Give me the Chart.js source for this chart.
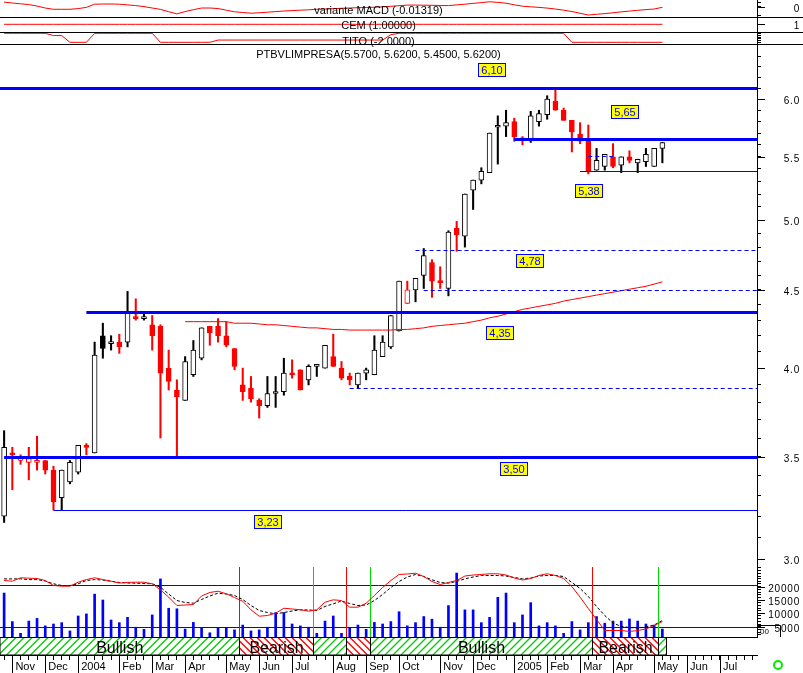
<!DOCTYPE html>
<html>
<head>
<meta charset="utf-8">
<title>PTBVLIMPRESA</title>
<script src="https://cdn.jsdelivr.net/npm/chart.js@4.4.1/dist/chart.umd.min.js"></script>
<style>
  body { margin: 0; background: #fff; }
  #page { position: relative; width: 803px; height: 673px; overflow: hidden; background: #fff; }
  #page canvas { position: absolute; left: 0; }
  .rule { position: absolute; left: 0; width: 803px; height: 1px; background: #000; }
  .cap { position: absolute; left: 0; width: 757px; text-align: center; font: 11px "Liberation Sans", Arial, sans-serif; line-height: 11px; color: #000; white-space: nowrap; }
</style>
</head>
<body>
<div id="page">
  <canvas id="macd" width="803" height="17" style="top:0"></canvas>
  <canvas id="cem" width="803" height="15" style="top:17px"></canvas>
  <canvas id="tito" width="803" height="12" style="top:32px"></canvas>
  <canvas id="price" width="803" height="521" style="top:44px"></canvas>
  <canvas id="osc" width="803" height="72" style="top:565px"></canvas>
  <canvas id="axis" width="803" height="36" style="top:637px"></canvas>
  <div class="rule" style="top:17px"></div>
  <div class="rule" style="top:32px"></div>
  <div class="rule" style="top:44px"></div>
  <div class="cap" style="top:5px">variante MACD (-0.01319)</div>
  <div class="cap" style="top:20px">CEM (1.00000)</div>
  <div class="cap" style="top:36px">TITO (-2.0000)</div>
  <div class="cap" style="top:49px">PTBVLIMPRESA(5.5700, 5.6200, 5.4500, 5.6200)</div>
</div>
<script>
// weekly candles, Oct 2003 -> May 2005
const opens  = [3.20,3.52,3.48,3.47,3.47,3.48,3.43,3.29,3.37,3.42, 3.56,3.52,4.20,4.15,4.16,4.16,4.32,4.31,4.27,4.26,
                4.00,3.87,3.81,3.96,4.06,4.26,4.26,4.20,4.12,3.90, 3.88,3.81,3.78,3.85,3.86,3.97,3.99,3.93,4.01,4.00,
                4.07,4.00,3.95,3.90,3.97,3.96,4.07,4.13,4.23,4.41, 4.50,4.60,4.69,4.56,4.51,4.94,4.88,5.23,5.31,5.37,
                5.75,5.76,5.80,5.66,5.64,5.80,5.86,5.98,5.90,5.81, 5.69,5.65,5.39,5.42,5.50,5.43,5.50,5.45,5.46,5.42, 5.57];
const highs  = [3.64,3.55,3.51,3.55,3.61,3.48,3.45,3.43,3.48,3.56, 3.57,4.16,4.28,4.20,4.21,4.49,4.44,4.35,4.33,4.27,
                4.11,3.93,4.07,4.17,4.25,4.26,4.31,4.29,4.12,4.00, 3.95,3.82,3.95,3.95,4.06,4.05,3.99,4.02,4.02,4.14,
                4.21,4.04,3.97,3.97,4.00,4.20,4.20,4.33,4.56,4.56, 4.58,4.79,4.71,4.66,4.92,4.99,5.20,5.31,5.41,5.70,
                5.85,5.90,5.83,5.67,5.89,5.90,6.03,6.10,5.92,5.81, 5.79,5.77,5.57,5.52,5.61,5.50,5.55,5.48,5.57,5.57, 5.62];
const lows   = [3.17,3.33,3.46,3.38,3.43,3.41,3.23,3.23,3.36,3.41, 3.51,3.52,4.06,4.11,4.09,4.13,4.30,4.30,4.11,3.60,
                3.87,3.50,3.81,3.95,4.05,4.14,4.16,4.13,3.99,3.81, 3.80,3.71,3.77,3.77,3.84,3.94,3.87,3.90,3.95,4.00,
                4.01,3.93,3.90,3.88,3.93,3.96,4.07,4.12,4.23,4.41, 4.42,4.51,4.45,4.51,4.46,4.77,4.80,5.08,5.28,5.37,
                5.44,5.67,5.63,5.60,5.62,5.76,5.82,5.90,5.81,5.54, 5.61,5.36,5.39,5.39,5.41,5.37,5.45,5.37,5.42,5.42, 5.45];
const closes = [3.55,3.51,3.50,3.49,3.48,3.43,3.27,3.43,3.47,3.56, 3.55,4.08,4.12,4.16,4.13,4.35,4.31,4.32,4.20,3.97,
                3.92,3.83,4.04,4.11,4.25,4.22,4.20,4.14,4.01,3.86, 3.82,3.78,3.85,3.86,3.97,3.96,3.87,4.01,4.02,4.14,
                4.01,3.94,3.93,3.97,3.99,4.11,4.16,4.33,4.56,4.50, 4.58,4.74,4.56,4.55,4.91,4.89,5.20,5.31,5.38,5.70,
                5.76,5.79,5.67,5.64,5.85,5.87,6.00,5.90,5.81,5.71, 5.63,5.38,5.47,5.52,5.42,5.50,5.47,5.48,5.52,5.57, 5.62];
// red average drawn over the candles (starts at week 23)
const avgLine = [null,null,null,null,null,null,null,null,null,null, null,null,null,null,null,null,null,null,null,null,
                 null,null,4.29,4.29,4.29,4.29,4.29,4.29,4.28,4.28, 4.28,4.275,4.27,4.27,4.265,4.26,4.255,4.25,4.25,4.245,
                 4.24,4.24,4.236,4.236,4.236,4.236,4.236,4.236,4.24,4.24, 4.245,4.25,4.26,4.265,4.27,4.275,4.28,4.29,4.30,4.315,
                 4.325,4.34,4.355,4.37,4.38,4.39,4.40,4.41,4.425,4.435, 4.445,4.455,4.465,4.475,4.485,4.495,4.505,4.515,4.525,4.54, 4.555];
const volume = [17600,6900,2500,7100,8100,5300,6000,6500,3400,9000, 9800,17200,15000,7500,6500,8500,4800,4000,9400,22900,
                11900,11700,4100,6600,4400,2700,4400,4400,3800,5600, 3400,3800,4800,10300,10300,6000,5300,4800,2500,7100,
                9000,2500,4400,5600,4000,6600,6000,6900,10600,5300, 6500,8800,7800,4800,12900,25100,11300,11300,6500,8500,
                16000,17600,6500,9400,14000,5300,6500,5300,2500,6900, 3800,6500,8800,6300,7100,7100,7900,7100,6000,5600, 4100];
const stochK = [85.7,84.7,89.6,89,88.6,85.7,78.6,77.6,77.6,83.3, 87,89.6,87,84.7,82,83,83.3,83.3,81,72.4,
                61.9,50,50.7,51.4,63.6,68.6,70.4,66.7,61.4,56.1, 43.9,34.7,35.7,39,46.1,45,43.9,41.9,43.9,54.7,
                58.1,57.1,47.6,47.6,53.3,64.3,75.7,85.7,94.3,95, 96.1,91.4,84.3,80,82.9,85.7,92.1,93.6,94.3,95.3,
                95.3,93.6,89.3,86.4,88.6,92.9,95.3,92.9,88.6,77.1, 61.9,45.7,30,14.3,14.3,14.3,12.9,14.3,16.4,21.4, 27.1];
const stochD = [88,88,88,87,87,85,81,78.6,78.6,81, 85.7,87,86.4,84.7,82.9,82.1,81.9,81.4,81,76.1,
                66.4,57.1,54.3,53.3,58.6,63.6,67.6,66.4,64.3,58.6, 50,42.9,40,38.1,40,42.1,43.9,43.6,42.9,48.6,
                52.4,56.4,52.9,50,50.7,57.1,65.7,75.7,84.3,90.7, 94.3,91.4,86.7,82.9,81.9,84.3,88.1,90.7,92.9,92.9,
                92.9,92.1,90,88.1,89.3,92.1,92.9,92.9,91.4,82.9, 74.3,62.9,48.6,35.7,25,20,18.6,17.6,19.3,22.1, 28.6];
const macd   = [0.101,0.081,0.064,0.046,0.015,-0.029,-0.057,-0.057,-0.057,-0.042,
                -0.015,0.055,0.059,0.059,0.055,0.040,0.024,0.002,-0.029,-0.059,
                -0.110,-0.158,-0.108,-0.066,-0.029,-0.029,-0.040,-0.077,-0.112,-0.128,
                -0.143,-0.134,-0.121,-0.108,-0.095,-0.086,-0.077,-0.068,-0.057,-0.051,
                -0.044,-0.035,-0.029,-0.022,-0.018,-0.011,-0.004,0.009,0.022,0.035,
                0.035,0.033,0.031,0.026,0.024,0.040,0.055,0.073,0.090,0.108,
                0.095,0.077,0.042,0.011,-0.002,-0.015,-0.031,-0.051,-0.077,-0.106,
                -0.145,-0.183,-0.167,-0.152,-0.134,-0.114,-0.097,-0.079,-0.064,-0.051, -0.01319];
const cem    = [1,1,1,1,1,1,1,1,1,1, 1,1,1,1,1,1,1,1,1,1, 1,1,1,1,1,1,1,1,1,1, 1,1,1,1,1,1,1,1,1,1,
                1,1,1,1,1,1,1,1,1,1, 1,1,1,1,1,1,1,1,1,1, 1,1,1,1,1,1,1,1,1,1, 1,1,1,1,1,1,1,1,1,1, 1];
const tito   = [2,2,2,2,2,2,1,1,-2,-2, -2,2,2,2,2,2,2,2,2,-2, -2,-2,-2,-2,-2,-2,-1,-1,-1,-1,
                -1,-1,-1,-1,-1,-1,-1,-1,-1,-1, -1,-1,-1,-1,-1,-1,-1,1.4,2,2, 2,2,2,2,2,2,2,2,2,2,
                2,2,2,2,2,2,2,2,2,-2, -2,-2,-2,-2,-2,-2,-2,-2,-2,-2, -2];

// support / resistance levels (start week, -1 = left edge; end null = right edge)
const levelValue = [6.10, 5.65, 5.38, 5.51, 4.78, 4.50, 4.35, 3.88, 3.50, 3.23];
const levelFrom  = [-1, 62, 70, 71, 50, 51, 10, 42, 0, 6];
const levelTo    = [null, null, null, 74, null, null, null, null, null, null];
const levelKind  = ['thick','thick','thin','dash','dash','dash','thick','dash','thick','thin'];
const tagText    = ['6,10', '5,65', '5,38', '4,78', '4,35', '3,50', '3,23'];
const tagAt      = [[59.3, 6.27], [75.4, 5.88], [71.1, 5.22], [63.9, 4.70], [60.3, 4.22], [62.0, 3.436], [32.1, 3.174]];

// trend band under the oscillator
const trendFrom = [0, 29, 38, 42, 45, 72, 80];
const trendTo   = [28, 37, 41, 44, 71, 79, 80];
const trendName = ['Bullish','Bearish','Bullish','Bearish','Bullish','Bearish','Bullish'];

// x axis: 92 weekly slots, month labels at their first week
const SLOTS = 92;
const monthIdx   = [1,5,9,14,18,22,27,31,35,40,44,48,53,57,62,66,70,74,79,83,87];
const monthNames = ['Nov','Dec','2004','Feb','Mar','Apr','May','Jun','Jul','Aug','Sep','Oct','Nov','Dec','2005','Feb','Mar','Apr','May','Jun','Jul'];

const priceLabels  = [3.0, 3.5, 4.0, 4.5, 5.0, 5.5, 6.0];
const volumeLabels = [5000, 10000, 15000, 20000];

const AXIS_W = 46;
const weekLabels = [];
for (let i = 0; i < SLOTS; i++) weekLabels.push('');
monthIdx.forEach((i, k) => { weekLabels[i] = monthNames[k]; });

const priceMinor = [];
for (let v = 30; v <= 64; v++) priceMinor.push(v / 10);
const volMinor = [];
for (let v = 2000; v <= 27000; v += 1000) volMinor.push(v);

const candleColor = closes.map((c, i) => (i === 0 || c >= closes[i - 1]) ? '#000000' : '#ff0000');
const bodyFill = closes.map((c, i) => c >= opens[i] ? '#ffffff' : candleColor[i]);
const bodies = opens.map((o, i) => [o, closes[i]]);
const wicks = lows.map((l, i) => [l, highs[i]]);

function rightAxis(min, max, tickValues, type) {
  return {
    type: type || 'linear',
    position: 'right',
    min: min, max: max,
    afterFit(s) { s.width = AXIS_W; },
    afterBuildTicks(s) { s.ticks = tickValues.map(v => ({ value: v })); },
    ticks: { display: false },
    grid: { display: true, drawOnChartArea: false, drawTicks: true, tickLength: 4, tickColor: '#000', color: '#000' },
    border: { display: true, color: '#000', width: 1 }
  };
}

function baseOptions(yScales) {
  return {
    responsive: false,
    animation: false,
    devicePixelRatio: 1,
    events: [],
    layout: { padding: 0 },
    plugins: { legend: { display: false }, tooltip: { enabled: false } },
    scales: Object.assign({
      x: { type: 'category', display: false, offset: true, grid: { offset: false } }
    }, yScales)
  };
}

// long ticks + text labels on the right axis
function sideLabels(marks) {
  return {
    id: 'sideLabels',
    afterDraw(chart) {
      const s = chart.scales.y, ctx = chart.ctx;
      ctx.save();
      ctx.strokeStyle = '#000';
      ctx.lineWidth = 1;
      ctx.fillStyle = '#000';
      ctx.font = '10px "Liberation Sans", Arial, sans-serif';
      ctx.letterSpacing = '0.8px';
      ctx.textAlign = 'right';
      ctx.textBaseline = 'middle';
      marks.forEach(m => {
        const py = Math.round(s.getPixelForValue(m[0])) + 0.5;
        ctx.beginPath();
        ctx.moveTo(s.left, py);
        ctx.lineTo(s.left + 8, py);
        ctx.stroke();
        if (m[1]) ctx.fillText(m[1], 800, py + 1.5);
      });
      ctx.restore();
    }
  };
}

function lineSet(data, color, extra) {
  return Object.assign({ type: 'line', data: data, borderColor: color, borderWidth: 1, pointRadius: 0, tension: 0 }, extra || {});
}

// top indicator strips
new Chart(document.getElementById('macd'), {
  type: 'line',
  data: { labels: weekLabels, datasets: [lineSet(macd, '#ff0000')] },
  options: baseOptions({ y: rightAxis(-0.2266, 0.1474, [0.1, 0, -0.2]) }),
  plugins: [sideLabels([[0, '0']])]
});
new Chart(document.getElementById('cem'), {
  type: 'line',
  data: { labels: weekLabels, datasets: [lineSet(cem, '#ff0000')] },
  options: baseOptions({ y: rightAxis(0.23, 1.73, [1]) }),
  plugins: [sideLabels([[1, '1']])]
});
new Chart(document.getElementById('tito'), {
  type: 'line',
  data: { labels: weekLabels, datasets: [lineSet(tito, '#ff0000')] },
  options: baseOptions({ y: rightAxis(-2.756, 2.578, [2.5, 1.75, 1, 0.25, -0.5, -1.25, -2]) }),
  plugins: []
});

// price panel
const levelStyle = {
  thick: { width: 3, dash: [] },
  thin:  { width: 1, dash: [] },
  dash:  { width: 1, dash: [4, 3] }
};
const levelPlugin = {
  id: 'levels',
  afterDatasetsDraw(chart) {
    const { ctx, chartArea: a, scales: { x, y } } = chart;
    ctx.save();
    ctx.strokeStyle = '#0000ff';
    levelValue.forEach((v, k) => {
      const st = levelStyle[levelKind[k]];
      const py = Math.round(y.getPixelForValue(v)) + 0.5;
      const x0 = levelFrom[k] < 0 ? a.left : x.getPixelForValue(levelFrom[k]);
      const x1 = levelTo[k] == null ? a.right : x.getPixelForValue(levelTo[k]);
      ctx.lineWidth = st.width;
      ctx.setLineDash(st.dash);
      ctx.beginPath();
      ctx.moveTo(x0, py);
      ctx.lineTo(x1, py);
      ctx.stroke();
    });
    ctx.setLineDash([]);
    ctx.font = '11px "Liberation Sans", Arial, sans-serif';
    ctx.textAlign = 'center';
    ctx.textBaseline = 'middle';
    tagText.forEach((t, k) => {
      const cx = Math.round(x.getPixelForValue(tagAt[k][0]));
      const cy = Math.round(y.getPixelForValue(tagAt[k][1]));
      ctx.fillStyle = '#ffff00';
      ctx.fillRect(cx - 14, cy - 7, 28, 14);
      ctx.lineWidth = 1;
      ctx.strokeStyle = '#0000ff';
      ctx.strokeRect(cx - 13.5, cy - 6.5, 27, 13);
      ctx.fillStyle = '#0000ff';
      ctx.fillText(t, cx, cy + 1);
    });
    ctx.restore();
  }
};

new Chart(document.getElementById('price'), {
  type: 'bar',
  data: {
    labels: weekLabels,
    datasets: [
      lineSet(avgLine, '#ff0000', { order: 0 }),
      { data: bodies, backgroundColor: bodyFill, borderColor: candleColor, borderWidth: 1, borderSkipped: false,
        barThickness: 5, minBarLength: 2, grouped: false, order: 1 },
      { data: wicks, backgroundColor: candleColor, borderWidth: 0, barThickness: 1.4, grouped: false, order: 2 }
    ]
  },
  options: baseOptions({ y: rightAxis(2.973, 6.519, priceMinor, 'logarithmic') }),
  plugins: [levelPlugin, sideLabels(priceLabels.map(v => [v, v.toFixed(1)]))]
});

// oscillator + volume panel
function segEdges(x, k) {
  const slot = x.getPixelForValue(1) - x.getPixelForValue(0);
  const x0 = k === 0 ? x.left : Math.round(x.getPixelForValue(trendFrom[k]) - slot / 2) + 0.5;
  const x1 = Math.round(x.getPixelForValue(trendTo[k]) + slot / 2) + 0.5;
  return [x0, x1];
}
const oscDecor = {
  id: 'oscDecor',
  beforeDatasetsDraw(chart) {
    const { ctx, chartArea: a, scales: { x, osc } } = chart;
    ctx.save();
    ctx.lineWidth = 1;
    ctx.strokeStyle = '#0000ff';
    [80, 20].forEach(v => {
      const py = Math.round(osc.getPixelForValue(v)) + 0.5;
      ctx.beginPath(); ctx.moveTo(a.left, py); ctx.lineTo(a.right, py); ctx.stroke();
    });
    for (let k = 1; k < trendFrom.length; k++) {
      const px = segEdges(x, k)[0];
      ctx.strokeStyle = trendName[k] === 'Bullish' ? '#00dd00' : '#ff0000';
      ctx.beginPath(); ctx.moveTo(px, a.top + 2); ctx.lineTo(px, a.bottom); ctx.stroke();
    }
    ctx.restore();
  },
  afterDraw(chart) {
    const { ctx, chartArea: a } = chart;
    ctx.save();
    ctx.strokeStyle = '#000';
    ctx.lineWidth = 1;
    ctx.beginPath();
    ctx.moveTo(a.right, a.bottom - 11.5); ctx.lineTo(a.right + 23.5, a.bottom - 11.5); ctx.lineTo(a.right + 23.5, a.bottom);
    ctx.stroke();
    ctx.fillStyle = '#000';
    ctx.font = '8px "Liberation Sans", Arial, sans-serif';
    ctx.textBaseline = 'middle';
    ctx.fillText('00', a.right + 3, a.bottom - 5);
    ctx.restore();
  }
};

new Chart(document.getElementById('osc'), {
  type: 'bar',
  data: {
    labels: weekLabels,
    datasets: [
      lineSet(stochK, '#ff0000', { yAxisID: 'osc', order: 0 }),
      lineSet(stochD, '#000000', { yAxisID: 'osc', borderDash: [3, 2], order: 1 }),
      { data: volume, yAxisID: 'y', backgroundColor: '#0000ff', barThickness: 2, order: 2 }
    ]
  },
  options: baseOptions({
    y: rightAxis(1125, 28125, volMinor),
    osc: { type: 'linear', display: false, min: 5, max: 107.86 }
  }),
  plugins: [oscDecor, sideLabels(volumeLabels.map(v => [v, String(v)]))]
});

// trend band and time axis
function hatch(ctx, x0, x1, top, bot, color, up, gap) {
  ctx.save();
  ctx.beginPath();
  ctx.rect(x0, top, x1 - x0, bot - top);
  ctx.clip();
  ctx.strokeStyle = color;
  ctx.lineWidth = 1.3;
  const h = bot - top;
  ctx.beginPath();
  for (let px = x0 - h; px < x1 + h; px += gap) {
    if (up) { ctx.moveTo(px, bot); ctx.lineTo(px + h, top); }
    else { ctx.moveTo(px, top); ctx.lineTo(px + h, bot); }
  }
  ctx.stroke();
  ctx.restore();
}
const bandPlugin = {
  id: 'trendBand',
  afterDraw(chart) {
    const { ctx, chartArea: a, scales: { x } } = chart;
    const top = a.top + 0.5, bot = a.bottom;
    ctx.save();
    ctx.font = '16px "Liberation Sans Narrow", "Liberation Sans", Arial, sans-serif';
    ctx.textAlign = 'center';
    ctx.textBaseline = 'alphabetic';
    trendFrom.forEach((f, k) => {
      const [x0, x1] = segEdges(x, k);
      const bull = trendName[k] === 'Bullish';
      hatch(ctx, x0, x1, top, bot, bull ? '#00cc00' : '#ff0000', bull, bull ? 8 : 7);
      ctx.strokeStyle = '#000';
      ctx.lineWidth = 1;
      ctx.strokeRect(x0, top, x1 - x0, bot - top);
      if (x1 - x0 > 50) {
        ctx.fillStyle = '#000';
        ctx.fillText(trendName[k], (x0 + x1) / 2, bot - 2.5);
      }
    });
    ctx.strokeStyle = '#000';
    ctx.beginPath();
    ctx.moveTo(a.left, top); ctx.lineTo(a.right + 1, top);
    monthIdx.forEach(i => {
      const px = Math.round(x.getPixelForValue(i)) + 0.5;
      ctx.moveTo(px, a.bottom); ctx.lineTo(px, chart.height);
    });
    ctx.stroke();
    // status marker
    ctx.strokeStyle = '#00ee00';
    ctx.lineWidth = 2;
    ctx.beginPath();
    ctx.arc(778, 28, 4, 0, Math.PI * 2);
    ctx.stroke();
    ctx.restore();
  }
};

new Chart(document.getElementById('axis'), {
  type: 'bar',
  data: { labels: weekLabels, datasets: [] },
  options: {
    responsive: false,
    animation: false,
    devicePixelRatio: 1,
    events: [],
    layout: { padding: 0 },
    plugins: { legend: { display: false }, tooltip: { enabled: false } },
    scales: {
      x: {
        type: 'category', offset: true,
        afterFit(s) { s.height = 18; },
        grid: { offset: false, drawOnChartArea: false, drawTicks: true, tickLength: 5, color: '#000', tickColor: '#000' },
        border: { display: true, color: '#000' },
        ticks: {
          autoSkip: false, maxRotation: 0, minRotation: 0, align: 'start', padding: 0, color: '#000',
          font: { family: '"Liberation Sans Narrow", "Liberation Sans", Arial, sans-serif', size: 11 },
          callback: (v) => weekLabels[v] ? ' ' + weekLabels[v] : ''
        }
      },
      y: {
        display: true, position: 'right',
        afterFit(s) { s.width = AXIS_W; },
        grid: { display: false }, border: { display: false }, ticks: { display: false }
      }
    }
  },
  plugins: [bandPlugin]
});
</script>
</body>
</html>
